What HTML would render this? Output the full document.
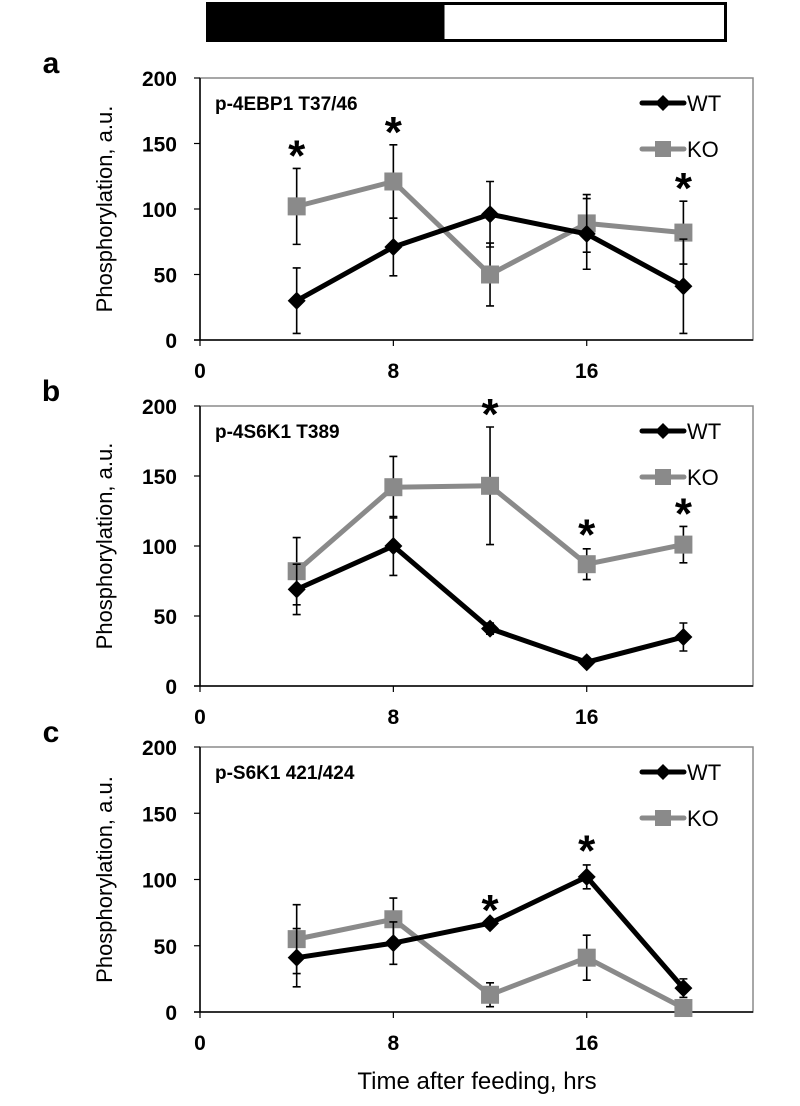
<!DOCTYPE html>
<html><head><meta charset="utf-8"><style>
html,body{margin:0;padding:0;background:#fff;}
svg{display:block;font-family:"Liberation Sans",Arial,sans-serif;}
</style></head><body>
<svg id="fig" width="800" height="1106" viewBox="0 0 800 1106" xmlns="http://www.w3.org/2000/svg">
<g>
<rect x="206" y="2" width="237" height="40" fill="#000"/>
<rect x="443" y="3.5" width="282.5" height="37" fill="#fff" stroke="#000" stroke-width="3"/>
</g>
<text x="477" y="1089" font-size="24" text-anchor="middle">Time after feeding, hrs</text>
</svg>
<script>
// shared axis data
const xTicks = [0, 8, 16];
const yTicks = [0, 50, 100, 150, 200];
const times = [4, 8, 12, 16, 20];
// panel a
const aTitle = "p-4EBP1 T37/46";
const aWT = [30, 71, 96, 81, 41];
const aWTErr = [25, 22, 25, 27, 36];
const aKO = [102, 121, 50, 89, 82];
const aKOErr = [29, 28, 24, 22, 24];
const aStars = [[4, 131], [8, 149], [20, 106]];
// panel b
const bTitle = "p-4S6K1 T389";
const bWT = [69, 100, 41, 17, 35];
const bWTErr = [18, 21, 4, 2, 10];
const bKO = [82, 142, 143, 87, 101];
const bKOErr = [24, 22, 42, 11, 13];
const bStars = [[12, 185], [16, 99], [20, 114]];
// panel c
const cTitle = "p-S6K1 421/424";
const cWT = [41, 52, 67, 102, 18];
const cWTErr = [22, 16, 1, 9, 7];
const cKO = [55, 70, 13, 41, 3];
const cKOErr = [26, 16, 9, 17, 0];
const cStars = [[12, 67], [16, 112]];

const NS = "http://www.w3.org/2000/svg";
const svg = document.getElementById('fig');
function mk(tag, attrs, parent) {
  const e = document.createElementNS(NS, tag);
  for (const k in attrs) e.setAttribute(k, attrs[k]);
  parent.appendChild(e);
  return e;
}
const X0 = 200, XR = 753, PXH = 24.17;
function xs(t) { return X0 + t * PXH; }

function panel(letter, top, bottom, title, wt, wtErr, ko, koErr, stars, showX) {
  const g = mk('g', {}, svg);
  
  
  const ys = v => bottom - (v / 200) * (bottom - top);
  const lt = mk('text', {x: 51, y: top - 5, 'font-size': 30, 'font-weight': 'bold', 'text-anchor': 'middle'}, g);
  lt.textContent = letter;
  
  
  const fr = mk('rect', {x: X0, y: top, width: XR - X0, height: bottom - top, fill: 'none', stroke: '#8a8a8a', 'stroke-width': 1.5}, g);
  
  
  const ya = mk('line', {x1: X0, y1: top, x2: X0, y2: bottom, stroke: '#000', 'stroke-width': 1.5}, g);
  
  
  const xa = mk('line', {x1: X0 - 6, y1: bottom, x2: XR, y2: bottom, stroke: '#000', 'stroke-width': 1.5}, g);
  
  
  yTicks.forEach(v => {
    mk('line', {x1: X0 - 6, y1: ys(v), x2: X0, y2: ys(v), stroke: '#000', 'stroke-width': 1.2}, g);
    const t = mk('text', {x: 177, y: ys(v) + 8, 'font-size': 21, 'font-weight': 'bold', 'text-anchor': 'end'}, g);
    t.textContent = v;
    
    
  });
  xTicks.forEach(v => {
    mk('line', {x1: xs(v), y1: bottom, x2: xs(v), y2: bottom + 6, stroke: '#000', 'stroke-width': 1.2}, g);
    if (showX) {
      const t = mk('text', {x: xs(v), y: bottom + 38, 'font-size': 21, 'font-weight': 'bold', 'text-anchor': 'middle'}, g);
      t.textContent = v;
      
      
    }
  });
  const yl = mk('text', {x: 0, y: 0, 'font-size': 22, 'text-anchor': 'middle', transform: `translate(112,${(top + bottom) / 2}) rotate(-90)`}, g);
  yl.textContent = 'Phosphorylation, a.u.';
  
  
  const tt = mk('text', {x: 215, y: top + 32, 'font-size': 19, 'font-weight': 'bold'}, g);
  tt.textContent = title;
  
  

  function series(vals, errs, color, name, marker) {
    const sg = mk('g', {}, g);
    
    
    vals.forEach((v, i) => {
      if (errs[i] > 0) {
        const x = xs(times[i]), y1 = ys(v + errs[i]), y2 = ys(v - errs[i]);
        const eb = mk('path', {d: `M${x},${y1}V${y2}M${x - 4},${y1}H${x + 4}M${x - 4},${y2}H${x + 4}`, stroke: '#000', 'stroke-width': 1.6, fill: 'none'}, sg);
        
        
      }
    });
    const ln = mk('polyline', {points: vals.map((v, i) => xs(times[i]) + ',' + ys(v)).join(' '), fill: 'none', stroke: color, 'stroke-width': 5, 'stroke-linejoin': 'round'}, sg);
    
    
    vals.forEach((v, i) => {
      const x = xs(times[i]), y = ys(v);
      let m;
      if (marker === 'diamond') m = mk('polygon', {points: `${x},${y - 9} ${x + 9},${y} ${x},${y + 9} ${x - 9},${y}`, fill: color}, sg);
      else m = mk('rect', {x: x - 9, y: y - 9, width: 18, height: 18, fill: color}, sg);
      
      
    });
  }
  series(ko, koErr, '#8a8a8a', 'ko', 'square');
  series(wt, wtErr, '#000', 'wt', 'diamond');
  stars.forEach(s => {
    const st = mk('text', {x: xs(s[0]), y: ys(s[1]) + 2, 'font-size': 44, 'font-weight': 'bold', 'text-anchor': 'middle'}, g);
    st.textContent = '*';
    
    
  });
  const lg = mk('g', {}, g);
  
  
  const ly1 = top + 25, ly2 = top + 71;
  mk('line', {x1: 642, y1: ly1, x2: 684, y2: ly1, stroke: '#000', 'stroke-width': 5, 'stroke-linecap': 'round'}, lg);
  mk('polygon', {points: `663,${ly1 - 8} 671,${ly1} 663,${ly1 + 8} 655,${ly1}`, fill: '#000'}, lg);
  const w = mk('text', {x: 687, y: ly1 + 8, 'font-size': 22}, lg);
  w.textContent = 'WT';
  
  
  mk('line', {x1: 642, y1: ly2, x2: 684, y2: ly2, stroke: '#8a8a8a', 'stroke-width': 5, 'stroke-linecap': 'round'}, lg);
  mk('rect', {x: 655, y: ly2 - 8, width: 16, height: 16, fill: '#8a8a8a'}, lg);
  const k = mk('text', {x: 687, y: ly2 + 8, 'font-size': 22}, lg);
  k.textContent = 'KO';
  
  
}
panel('a', 78, 340, aTitle, aWT, aWTErr, aKO, aKOErr, aStars, true);
panel('b', 406, 686, bTitle, bWT, bWTErr, bKO, bKOErr, bStars, true);
panel('c', 747, 1012, cTitle, cWT, cWTErr, cKO, cKOErr, cStars, true);
</script>
</body></html>
